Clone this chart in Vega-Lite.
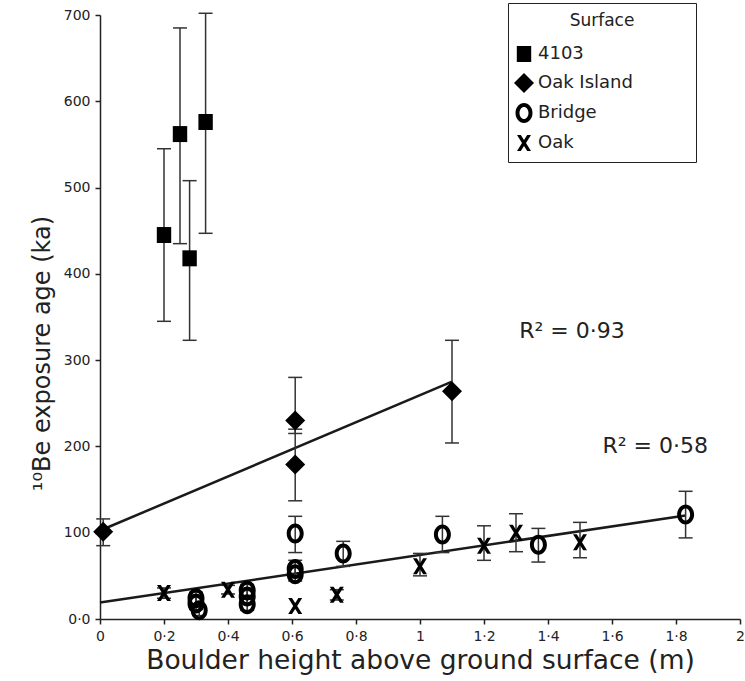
{
  "$schema": "https://vega.github.io/schema/vega-lite/v6.json",
  "width": 640,
  "height": 604,
  "autosize": {"type": "none"},
  "padding": {"left": 100, "top": 15, "right": 5, "bottom": 62},
  "background": "white",
  "config": {"view": {"stroke": null}, "font": "DejaVu Sans"},
  "datasets": {
    "pts": [
      {"s": "4103", "x": 0.20, "y": 445, "lo": 345, "hi": 545},
      {"s": "4103", "x": 0.25, "y": 562, "lo": 435, "hi": 685},
      {"s": "4103", "x": 0.28, "y": 418, "lo": 323, "hi": 508},
      {"s": "4103", "x": 0.33, "y": 576, "lo": 447, "hi": 702},
      {"s": "Oak Island", "x": 0.01, "y": 101, "lo": 85, "hi": 116},
      {"s": "Oak Island", "x": 0.61, "y": 230, "lo": 215, "hi": 280},
      {"s": "Oak Island", "x": 0.61, "y": 179, "lo": 137, "hi": 220},
      {"s": "Oak Island", "x": 1.10, "y": 264, "lo": 204, "hi": 323},
      {"s": "Bridge", "x": 0.30, "y": 24, "lo": 17, "hi": 31},
      {"s": "Bridge", "x": 0.30, "y": 18, "lo": 11, "hi": 25},
      {"s": "Bridge", "x": 0.31, "y": 10, "lo": 4, "hi": 16},
      {"s": "Bridge", "x": 0.46, "y": 33, "lo": 26, "hi": 40},
      {"s": "Bridge", "x": 0.46, "y": 26, "lo": 19, "hi": 33},
      {"s": "Bridge", "x": 0.46, "y": 17, "lo": 10, "hi": 24},
      {"s": "Bridge", "x": 0.61, "y": 99, "lo": 77, "hi": 119},
      {"s": "Bridge", "x": 0.61, "y": 58, "lo": 48, "hi": 68},
      {"s": "Bridge", "x": 0.61, "y": 52, "lo": 44, "hi": 60},
      {"s": "Bridge", "x": 0.76, "y": 76, "lo": 61, "hi": 90},
      {"s": "Bridge", "x": 1.07, "y": 98, "lo": 77, "hi": 119},
      {"s": "Bridge", "x": 1.37, "y": 86, "lo": 66, "hi": 105},
      {"s": "Bridge", "x": 1.83, "y": 121, "lo": 94, "hi": 148},
      {"s": "Oak", "x": 0.20, "y": 30, "lo": 24, "hi": 36},
      {"s": "Oak", "x": 0.40, "y": 34, "lo": 29, "hi": 39},
      {"s": "Oak", "x": 0.61, "y": 15, "lo": null, "hi": null},
      {"s": "Oak", "x": 0.74, "y": 28, "lo": 22, "hi": 34},
      {"s": "Oak", "x": 1.00, "y": 61, "lo": 50, "hi": 76},
      {"s": "Oak", "x": 1.20, "y": 85, "lo": 68, "hi": 108},
      {"s": "Oak", "x": 1.30, "y": 100, "lo": 78, "hi": 122},
      {"s": "Oak", "x": 1.50, "y": 89, "lo": 71, "hi": 112}
    ],
    "lines": [
      {"g": "Oak Island", "x": 0.01, "y": 104},
      {"g": "Oak Island", "x": 1.10, "y": 275},
      {"g": "All", "x": 0.0, "y": 19},
      {"g": "All", "x": 1.83, "y": 120}
    ],
    "notes": [
      {"x": 1.31, "y": 334, "label": "R² = 0·93"},
      {"x": 1.57, "y": 200, "label": "R² = 0·58"}
    ]
  },
  "layer": [
    {
      "data": {"name": "lines"},
      "mark": {"type": "line", "color": "#1a1a1a", "strokeWidth": 2.5},
      "encoding": {
        "x": {
          "field": "x", "type": "quantitative",
          "scale": {"domain": [0, 2], "nice": false, "zero": false},
          "axis": {
            "title": "Boulder height above ground surface (m)",
            "values": [0, 0.2, 0.4, 0.6, 0.8, 1, 1.2, 1.4, 1.6, 1.8, 2],
            "labelExpr": "replace(format(datum.value, '~g'), '.', '·')",
            "grid": false, "domainColor": "#222", "domainWidth": 1.5,
            "tickColor": "#222", "tickWidth": 1.5, "tickSize": 5,
            "labelFont": "DejaVu Sans", "labelFontSize": 14, "labelColor": "#222", "labelPadding": 5,
            "labelFlush": false, "labelOverlap": false,
            "titleFont": "DejaVu Sans", "titleFontSize": 26.5, "titleFontWeight": "normal", "titleColor": "#222", "titlePadding": 4
          }
        },
        "y": {
          "field": "y", "type": "quantitative",
          "scale": {"domain": [0, 700], "nice": false},
          "axis": {
            "title": "¹⁰Be exposure age (ka)",
            "values": [0, 100, 200, 300, 400, 500, 600, 700],
            "labelExpr": "datum.value == 0 ? '0·0' : datum.label",
            "grid": false, "domainColor": "#222", "domainWidth": 1.5,
            "tickColor": "#222", "tickWidth": 1.5, "tickSize": 5,
            "labelFont": "DejaVu Sans", "labelFontSize": 14, "labelColor": "#222", "labelPadding": 5,
            "labelFlush": false, "labelOverlap": false,
            "titleFont": "DejaVu Sans", "titleFontSize": 24, "titleFontWeight": "normal", "titleColor": "#222",
            "titleX": -58, "titleY": 338, "titleBaseline": "middle", "titleAngle": -90
          }
        },
        "detail": {"field": "g", "type": "nominal"}
      }
    },
    {
      "data": {"name": "pts"},
      "transform": [{"filter": "datum.lo != null"}],
      "mark": {"type": "rule", "color": "#333", "strokeWidth": 1.5},
      "encoding": {
        "x": {"field": "x", "type": "quantitative"},
        "y": {"field": "lo", "type": "quantitative"},
        "y2": {"field": "hi"}
      }
    },
    {
      "data": {"name": "pts"},
      "transform": [{"filter": "datum.lo != null"}],
      "mark": {"type": "tick", "orient": "horizontal", "color": "#333", "size": 14, "thickness": 1.5, "opacity": 1},
      "encoding": {
        "x": {"field": "x", "type": "quantitative"},
        "y": {"field": "lo", "type": "quantitative"}
      }
    },
    {
      "data": {"name": "pts"},
      "transform": [{"filter": "datum.hi != null"}],
      "mark": {"type": "tick", "orient": "horizontal", "color": "#333", "size": 14, "thickness": 1.5, "opacity": 1},
      "encoding": {
        "x": {"field": "x", "type": "quantitative"},
        "y": {"field": "hi", "type": "quantitative"}
      }
    },
    {
      "data": {"name": "pts"},
      "mark": {"type": "point", "filled": true, "color": "black", "size": 400, "opacity": 1, "strokeWidth": 0},
      "encoding": {
        "x": {"field": "x", "type": "quantitative"},
        "y": {"field": "y", "type": "quantitative"},
        "shape": {
          "field": "s", "type": "nominal",
          "scale": {
            "domain": ["4103", "Oak Island", "Bridge", "Oak"],
            "range": [
              "M-0.72,-0.8H0.72V0.8H-0.72Z",
              "M-1,0L0,-1L1,0L0,1Z",
              "M0,-1A0.85,1,0,1,1,0,1A0.85,1,0,1,1,0,-1Z M0,-0.6A0.45,0.6,0,1,0,0,0.6A0.45,0.6,0,1,0,0,-0.6Z",
              "M-0.7,-0.8L-0.32,-0.8L0,-0.3L0.32,-0.8L0.7,-0.8L0.2,0L0.7,0.8L0.32,0.8L0,0.3L-0.32,0.8L-0.7,0.8L-0.2,0Z"
            ]
          },
          "legend": {
            "title": "Surface",
            "orient": "none", "legendX": 408, "legendY": -12,
            "strokeColor": "#222", "fillColor": "white", "padding": 10,
            "titleAnchor": "middle", "titleAlign": "center", "titleFont": "DejaVu Sans", "titleFontSize": 17,
            "titleFontWeight": "normal", "titleColor": "#222", "titlePadding": 14,
            "labelFont": "DejaVu Sans", "labelFontSize": 18, "labelColor": "#222", "labelOffset": 4,
            "labelLimit": 400,
            "labelExpr": "datum.label + '\u2800\u2800\u2800\u2800'",
            "symbolOffset": -4, "rowPadding": 10, "symbolSize": 400,
            "symbolFillColor": "black", "symbolStrokeColor": "black", "symbolStrokeWidth": 0
          }
        }
      }
    },
    {
      "data": {"name": "notes"},
      "mark": {"type": "text", "align": "left", "baseline": "middle", "fontSize": 22, "font": "DejaVu Sans", "color": "#222"},
      "encoding": {
        "x": {"field": "x", "type": "quantitative"},
        "y": {"field": "y", "type": "quantitative"},
        "text": {"field": "label"}
      }
    }
  ]
}
